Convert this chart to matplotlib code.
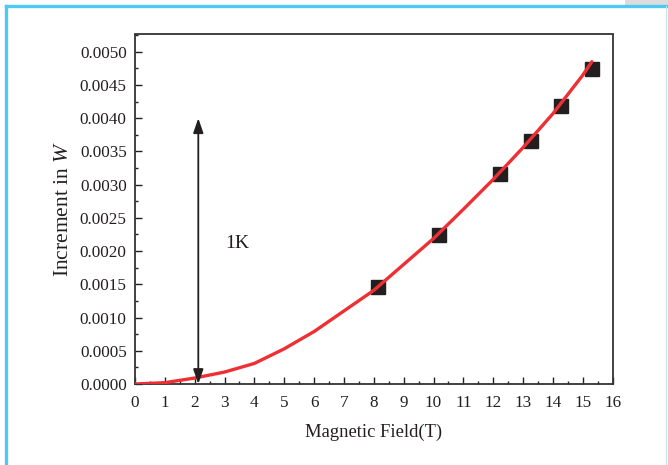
import matplotlib
matplotlib.use("Agg")
import matplotlib.pyplot as plt
from matplotlib.lines import Line2D
from matplotlib.patches import Rectangle
from matplotlib.ticker import MultipleLocator, FormatStrFormatter

plt.rcParams['font.family'] = ['Liberation Serif', 'DejaVu Serif']
plt.rcParams['mathtext.fontset'] = 'custom'
plt.rcParams['mathtext.it'] = 'Liberation Serif:italic'
plt.rcParams['mathtext.rm'] = 'Liberation Serif'

# Measured data (squares)
field_meas = [8.15, 10.18, 12.22, 13.25, 14.28, 15.30]
incr_meas = [0.001465, 0.002244, 0.003163, 0.003664, 0.004187, 0.004739]

# Fitted curve (red line)
field_fit = [0, 1, 2, 3, 4, 5, 6, 7, 8, 9, 10, 11, 12, 13, 14, 15, 15.3]
incr_fit = [0.0, 0.00002, 0.00009, 0.00018, 0.00031, 0.00053, 0.00079, 0.00110,
            0.00141, 0.00180, 0.00219, 0.00263, 0.00308, 0.00356, 0.00407,
            0.00465, 0.00485]

# Arrow and annotation
arrow_x = 2.12
arrow_y = [0.0, 0.0040]
label_text = "1K"
label_pos = (3.44, 0.00211)

fig = plt.figure(figsize=(6.68, 4.65), dpi=100)
ax = fig.add_axes([135/668, 1-384/465, (612.7-135)/668, (384-34.5)/465])

ax.plot(field_fit, incr_fit, color='#EE3035', lw=2.4, solid_capstyle='round', zorder=3)
ax.plot(field_meas, incr_meas, ls='none', marker='s', ms=9.8, color='#231F20', zorder=2)

ax.annotate('', xy=(arrow_x, arrow_y[1]), xytext=(arrow_x, arrow_y[0]),
            arrowprops=dict(arrowstyle='<|-|>,head_length=0.55,head_width=0.19',
                            color='#231F20', lw=1.3,
                            mutation_scale=16, shrinkA=0, shrinkB=0), zorder=4)
ax.text(label_pos[0], label_pos[1], label_text, fontsize=14, color='#231F20',
        ha='center', va='center')

ax.set_xlim(0, 16)
ax.set_ylim(0, 0.00526)
ax.xaxis.set_major_locator(MultipleLocator(1))
ax.xaxis.set_minor_locator(MultipleLocator(0.5))
ax.yaxis.set_minor_locator(MultipleLocator(0.00025))
ax.yaxis.set_major_formatter(FormatStrFormatter('%.4f'))
ax.set_yticks([i*0.0005 for i in range(11)])

ax.tick_params(which='both', direction='in', top=False, right=False, colors='#231F20')
ax.tick_params(which='major', length=5, width=1.0, labelsize=12.3, pad=6)
ax.tick_params(which='minor', length=2.5, width=1.0)
ax.tick_params(axis='x', which='major', pad=8)
for s in ax.spines.values():
    s.set_linewidth(1.3)
    s.set_color('#333333')

ax.set_xlabel('Magnetic Field(T)', fontsize=13.4, color='#231F20', labelpad=9)
ax.set_ylabel(r'Increment in $\mathit{W}$', fontsize=15.5, color='#231F20', labelpad=5)

# page frame
fig.add_artist(Rectangle((625/668, 1-5/465), 43/668, 5/465, transform=fig.transFigure,
                         color='#DCDCDC', lw=0))
fig.add_artist(Line2D([6/668, 1], [1-6/465, 1-6/465], transform=fig.transFigure,
                      color='#4FC8F2', lw=2.4))
fig.add_artist(Line2D([6/668, 6/668], [0, 1-6/465], transform=fig.transFigure,
                      color='#4FC8F2', lw=2.4))
fig.add_artist(Line2D([666/668, 666/668], [0, 1-6/465], transform=fig.transFigure,
                      color='#BFE8F6', lw=0.8))

fig.savefig('out.png', dpi=100)
